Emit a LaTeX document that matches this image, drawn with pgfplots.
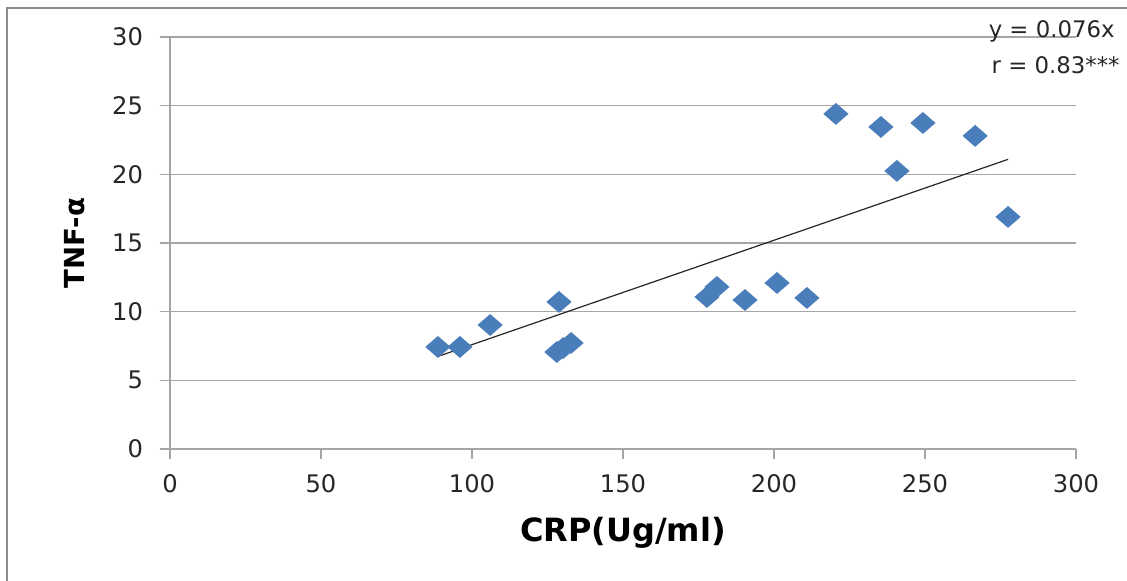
\documentclass[border=0pt]{standalone}
\usepackage{fontspec}
\setmainfont{DejaVu Sans}
\usepackage{pgfplots}
\pgfplotsset{compat=1.18}
\definecolor{ptblue}{HTML}{4A7EBB}
\definecolor{gridgray}{RGB}{165,165,165}
\definecolor{framegray}{RGB}{140,140,140}
\pgfdeclareplotmark{wdiamond}{%
  \pgfpathmoveto{\pgfqpoint{0pt}{0.87\pgfplotmarksize}}%
  \pgfpathlineto{\pgfqpoint{\pgfplotmarksize}{0pt}}%
  \pgfpathlineto{\pgfqpoint{0pt}{-0.87\pgfplotmarksize}}%
  \pgfpathlineto{\pgfqpoint{-\pgfplotmarksize}{0pt}}%
  \pgfpathclose\pgfusepathqfill}
\newcommand\PX[2]{({(#1-170)*0.5pt},{(449-#2)*0.5pt})}
\begin{document}
\begin{tikzpicture}
\useasboundingbox \PX{0}{0} rectangle \PX{1127}{581};
\draw[framegray, line width=1pt] \PX{1127}{8} -- \PX{7}{8} -- \PX{7}{581};
\begin{axis}[
  scale only axis,
  width=453pt, height=206pt,
  xmin=0, xmax=300, ymin=0, ymax=30,
  xtick={0,50,...,300}, ytick={0,5,...,30},
  axis lines=left,
  axis line style={gridgray, line width=0.7pt, -},
  ymajorgrids, grid style={gridgray, line width=0.7pt},
  tick align=outside, major tick length=5pt,
  tick style={gridgray, line width=0.7pt},
  /pgf/number format/assume math mode=true,
  ticklabel style={font=\fontsize{12.1}{14}\selectfont, text=black!85},
  xticklabel style={yshift=-4pt},
  yticklabel style={xshift=-5pt},
  xlabel={\bfseries CRP(Ug/ml)},
  ylabel={\bfseries TNF-α},
  xlabel style={at={(axis description cs:0.5,-0.2257)}, anchor=base, font=\fontsize{16}{19}\selectfont},
  ylabel style={at={(axis description cs:-0.105,0.5)}, anchor=center, font=\fontsize{13.8}{16}\selectfont},
  clip=false,
]
\addplot[only marks, mark=wdiamond, mark size=6.3pt, color=ptblue] coordinates {
  (88.7,7.43) (96.0,7.43) (106.0,9.03) (128.8,10.71)
  (128.1,7.06) (130.2,7.35) (132.8,7.72)
  (177.8,11.07) (181.1,11.80) (190.4,10.85) (201.0,12.09) (210.9,11.0)
  (220.5,24.4) (235.4,23.45) (249.3,23.74) (240.7,20.25) (266.6,22.8) (277.5,16.9)
};
\addplot[black!85, line width=0.6pt] coordinates {(88.7,6.74) (277.5,21.09)};
\end{axis}
\node[anchor=base east, inner sep=0pt, font=\fontsize{11.4}{13}\selectfont, text=black!85] at \PX{1115}{37.7} {y = 0.076x};
\node[anchor=base east, inner sep=0pt, font=\fontsize{11.4}{13}\selectfont, text=black!85] at \PX{1120}{73.3} {r = 0.83***};
\end{tikzpicture}
\end{document}
